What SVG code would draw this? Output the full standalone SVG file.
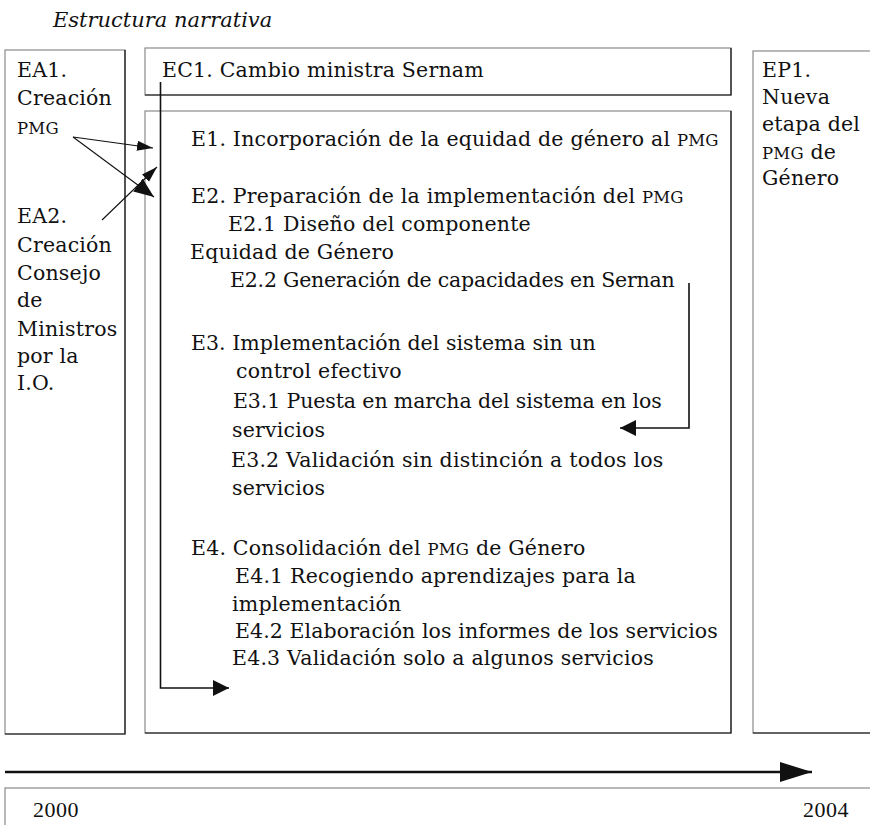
<svg xmlns="http://www.w3.org/2000/svg" width="870" height="825" viewBox="0 0 870 825">
<style>
  .t { font-family: "DejaVu Serif", "Liberation Serif", serif; font-size: 20.5px; letter-spacing: 0.2px; fill: #111; }
  .sc { font-size: 16.5px; }
  .title { font-family: "DejaVu Serif", "Liberation Serif", serif; font-size: 21px; font-style: italic; fill: #111; }
  .yr { font-family: "Liberation Serif", serif; font-size: 22px; letter-spacing: 0.5px; fill: #111; }
  .box { fill: #fff; stroke: #8a8a8a; stroke-width: 1.2; }
  .edge { fill: none; stroke: #111; stroke-width: 1.2; }
  .thin { fill: none; stroke: #111; stroke-width: 1.1; }
  .med { fill: none; stroke: #111; stroke-width: 1.6; }
  .thick { fill: none; stroke: #111; stroke-width: 2.6; }
</style>
<defs>
  <marker id="hA" markerUnits="userSpaceOnUse" markerWidth="18" markerHeight="12" refX="16" refY="6" orient="auto">
    <path d="M0,1 L16,6 L0,11 z" fill="#111"/>
  </marker>
  <marker id="hB" markerUnits="userSpaceOnUse" markerWidth="22" markerHeight="16" refX="20" refY="8" orient="auto">
    <path d="M0,0 L20,8 L0,16 z" fill="#111"/>
  </marker>
  <marker id="hC" markerUnits="userSpaceOnUse" markerWidth="18" markerHeight="16" refX="16" refY="8" orient="auto">
    <path d="M0,0 L16,8 L0,16 z" fill="#111"/>
  </marker>
  <marker id="hD" markerUnits="userSpaceOnUse" markerWidth="34" markerHeight="22" refX="32" refY="11" orient="auto">
    <path d="M0,1 L32,11 L0,21 z" fill="#111"/>
  </marker>
</defs>

<rect width="870" height="825" fill="#fff"/>

<text class="title" x="53" y="27">Estructura narrativa</text>

<g id="EA">
  <rect class="box" x="5" y="50" width="120" height="684"/>
  <path class="edge" d="M125,50 V734 H5"/>
  <text class="t" x="17" y="77">EA1.</text>
  <text class="t" x="17" y="105">Creación</text>
  <text class="t sc" x="17" y="134">PMG</text>
  <text class="t" x="17" y="223">EA2.</text>
  <text class="t" x="17" y="252">Creación</text>
  <text class="t" x="17" y="280">Consejo</text>
  <text class="t" x="17" y="307">de</text>
  <text class="t" x="17" y="336">Ministros</text>
  <text class="t" x="17" y="363">por la</text>
  <text class="t" x="17" y="390">I.O.</text>
</g>

<g id="EC1">
  <rect class="box" x="145" y="48" width="586" height="47"/>
  <path class="edge" d="M731,48 V95 H145"/>
  <text class="t" x="162" y="77">EC1. Cambio ministra Sernam</text>
</g>

<g id="E">
  <rect class="box" x="145" y="111" width="586" height="622"/>
  <path class="edge" d="M731,111 V733 H145"/>
  <text class="t" x="191" y="146">E1. Incorporación de la equidad de género al <tspan class="sc">PMG</tspan></text>
  <text class="t" x="191" y="203">E2. Preparación de la implementación del <tspan class="sc">PMG</tspan></text>
  <text class="t" x="228" y="231">E2.1 Diseño del componente</text>
  <text class="t" x="190" y="259">Equidad de Género</text>
  <text class="t" x="230" y="287" textLength="445" lengthAdjust="spacing">E2.2 Generación de capacidades en Sernan</text>
  <text class="t" x="191" y="350" textLength="405" lengthAdjust="spacing">E3. Implementación del sistema sin un</text>
  <text class="t" x="236" y="378">control efectivo</text>
  <text class="t" x="233" y="408" textLength="429" lengthAdjust="spacing">E3.1 Puesta en marcha del sistema en los</text>
  <text class="t" x="232" y="437">servicios</text>
  <text class="t" x="231" y="467">E3.2 Validación sin distinción a todos los</text>
  <text class="t" x="232" y="495">servicios</text>
  <text class="t" x="191" y="555">E4. Consolidación del <tspan class="sc">PMG</tspan> de Género</text>
  <text class="t" x="235" y="583">E4.1 Recogiendo aprendizajes para la</text>
  <text class="t" x="232" y="611">implementación</text>
  <text class="t" x="235" y="638" textLength="483" lengthAdjust="spacing">E4.2 Elaboración los informes de los servicios</text>
  <text class="t" x="232" y="665">E4.3 Validación solo a algunos servicios</text>
</g>

<g id="EP1">
  <rect class="box" x="753" y="51" width="120" height="682"/>
  <path class="edge" d="M753,733 H873"/>
  <text class="t" x="762" y="77">EP1.</text>
  <text class="t" x="762" y="104">Nueva</text>
  <text class="t" x="762" y="131">etapa del</text>
  <text class="t" x="762" y="159"><tspan class="sc">PMG</tspan> de</text>
  <text class="t" x="762" y="185">Género</text>
</g>

<g id="timeline">
  <rect class="box" x="5" y="788" width="870" height="40"/>
  <text class="yr" x="33" y="817">2000</text>
  <text class="yr" x="803" y="817">2004</text>
</g>

<g id="connectors">
  <line class="thin" x1="73" y1="137" x2="153" y2="148" marker-end="url(#hA)"/>
  <line class="thin" x1="73" y1="137" x2="154" y2="197" marker-end="url(#hB)"/>
  <line class="thin" x1="102" y1="220" x2="157" y2="167" marker-end="url(#hA)"/>
  <path class="med" d="M160.5,82 V688 H229" marker-end="url(#hC)"/>
  <path class="med" d="M689,283 V428 H620" marker-end="url(#hC)"/>
  <line class="thick" x1="5" y1="772" x2="812" y2="772" marker-end="url(#hD)"/>
</g>
</svg>
